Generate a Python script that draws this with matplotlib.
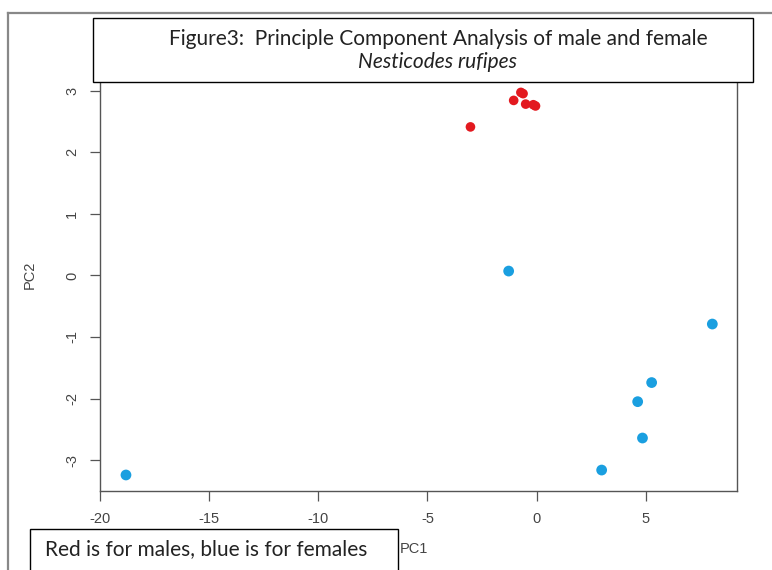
import matplotlib.pyplot as plt
from matplotlib.patches import Rectangle
from matplotlib.lines import Line2D

# PCA scores
male_pc1 = [-3.03, -1.05, -0.72, -0.62, -0.50, -0.15, -0.05]
male_pc2 = [2.41, 2.84, 2.97, 2.95, 2.78, 2.77, 2.75]
female_pc1 = [-18.81, -1.28, 2.98, 4.63, 4.85, 5.27, 8.05]
female_pc2 = [-3.24, 0.07, -3.16, -2.05, -2.64, -1.74, -0.79]

x_ticks = [-20, -15, -10, -5, 0, 5]
y_ticks = [-3, -2, -1, 0, 1, 2, 3]

title_line1 = "Figure3:  Principle Component Analysis of male and female"
title_line2 = "Nesticodes rufipes"
caption = "Red is for males, blue is for females"

W, H = 772, 570
fig = plt.figure(figsize=(W / 100, H / 100), dpi=100)


def fx(px):
    return px / W


def fy(py):
    return 1 - py / H


ax = fig.add_axes([fx(100), fy(491), fx(737) - fx(100), fy(77) - fy(491)])
ax.scatter(male_pc1, male_pc2, s=48, c='#e3191f', edgecolors='none', zorder=3)
ax.scatter(female_pc1, female_pc2, s=60, c='#1a9fe0', edgecolors='none', zorder=3)

ax.set_xlim(-19.98, 9.18)
ax.set_ylim(-3.50, 3.22)
ax.set_xticks(x_ticks)
ax.set_yticks(y_ticks)
ax.set_xticklabels([str(t) for t in x_ticks], fontfamily='Liberation Sans', fontsize=10.5, color='#444444')
ax.set_yticklabels([str(t) for t in y_ticks], fontfamily='Liberation Sans', fontsize=10.5, color='#444444',
                   rotation=90, va='center')
ax.tick_params(axis='both', length=7, width=0.9, color='#555555', pad=8)
for sp in ax.spines.values():
    sp.set_color('#555555')
    sp.set_linewidth(1.0)

fig.text(fx(30), fy(275), "PC2", rotation=90, ha='center', va='center',
         fontfamily='Liberation Sans', fontsize=10.5, color='#444444')
fig.text(fx(400), fy(549), "PC1", ha='left', va='center',
         fontfamily='Liberation Sans', fontsize=10.5, color='#444444')

# outer frame (left and top edges)
fig.add_artist(Line2D([fx(8), fx(8)], [fy(570), fy(13)], color='#888888', lw=1.6))
fig.add_artist(Line2D([fx(8), fx(772)], [fy(13), fy(13)], color='#888888', lw=1.6))

# title box
fig.add_artist(Rectangle((fx(93), fy(82)), fx(753) - fx(93), fy(18) - fy(82),
                         facecolor='white', edgecolor='black', lw=1.0, zorder=5))
fig.text(fx(438), fy(39), title_line1, ha='center', va='center', fontfamily='Lato',
         fontsize=15, color='#222222', zorder=6)
fig.text(fx(438), fy(62), title_line2, ha='center', va='center', fontfamily='Lato',
         fontstyle='italic', fontsize=15, color='#222222', zorder=6)

# caption box
fig.add_artist(Rectangle((fx(30), fy(575)), fx(398) - fx(30), fy(529) - fy(575),
                         facecolor='white', edgecolor='black', lw=1.0, zorder=5))
fig.text(fx(45), fy(549), caption, ha='left', va='center', fontfamily='Lato',
         fontsize=15, color='#222222', zorder=6)

fig.savefig('out.png', dpi=100)
